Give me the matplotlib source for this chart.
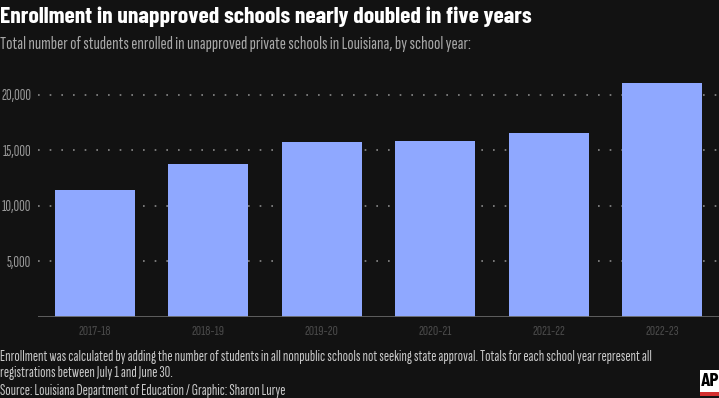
import matplotlib.pyplot as plt
from matplotlib.patches import Rectangle

# Data
years = ['2017-18', '2018-19', '2019-20', '2020-21', '2021-22', '2022-23']
students = [11470, 13730, 15720, 15800, 16530, 21050]
yticks = [5000, 10000, 15000, 20000]

bg = '#121212'
bar_color = '#8fa8ff'
font = ['Sofia Sans Extra Condensed', 'DejaVu Sans']
title_font = ['Barlow Condensed', 'DejaVu Sans']

fig = plt.figure(figsize=(7.19, 3.98), dpi=100, facecolor=bg)
ax = fig.add_axes([38 / 719, 1 - 317 / 398, 681 / 719, 250 / 398], facecolor=bg)

ax.bar(range(len(years)), students, width=0.705, color=bar_color, zorder=2)
ax.set_xlim(-0.5, len(years) - 0.5)
ax.set_ylim(0, 22500)

for y in yticks:
    ax.axhline(y, color='#8a8a8a', lw=1.2, ls=(0, (1, 6)), zorder=1)
ax.axhline(0, color='#666666', lw=2, zorder=3)

ax.set_yticks(yticks)
ax.set_yticklabels([f'{v:,}' for v in yticks], family=font, fontsize=11, color='#9a9a9a')
ax.set_xticks(range(len(years)))
ax.set_xticklabels(years, family=font, fontsize=10.5, color='#4a4a4a')
ax.tick_params(length=0, axis='y', pad=5)
ax.tick_params(length=0, axis='x', pad=6)
for s in ax.spines.values():
    s.set_visible(False)


def put(y, s, width, **kw):
    # place text and scale the font size until it spans the given pixel width
    kw.setdefault('family', font)
    t = fig.text(0.0, 1 - y / 398, s, va='center', **kw)
    r = fig.canvas.get_renderer()
    w = t.get_window_extent(r).width
    t.set_fontsize(t.get_fontsize() * width / w)
    return t


put(17, 'Enrollment in unapproved schools nearly doubled in five years', 532,
    family=title_font, fontweight='bold', color='white', fontsize=18)
put(44, 'Total number of students enrolled in unapproved private schools in Louisiana, by school year:', 470,
    color='#a8a8a8', fontsize=11)
put(357, 'Enrollment was calculated by adding the number of students in all nonpublic schools not seeking state approval. Totals for each school year represent all',
    642, color='#c8c8c8', fontsize=10)
put(373, 'registrations between July 1 and June 30.', 171, color='#c8c8c8', fontsize=10)
put(391, 'Source: Louisiana Department of Education / Graphic: Sharon Lurye', 283, color='#c8c8c8', fontsize=10)

# AP logo
fig.patches.append(Rectangle((700 / 719, 2 / 398), 19 / 719, 26 / 398, transform=fig.transFigure,
                             facecolor='white', edgecolor='none'))
fig.patches.append(Rectangle((700 / 719, 2 / 398), 19 / 719, 4 / 398, transform=fig.transFigure,
                             facecolor='#d32f2f', edgecolor='none'))
fig.text(710 / 719, 1 - 381 / 398, 'AP', family=title_font, fontsize=14, fontweight='bold',
         color='black', ha='center', va='center')

fig.savefig('out.png', dpi=100, facecolor=bg)
